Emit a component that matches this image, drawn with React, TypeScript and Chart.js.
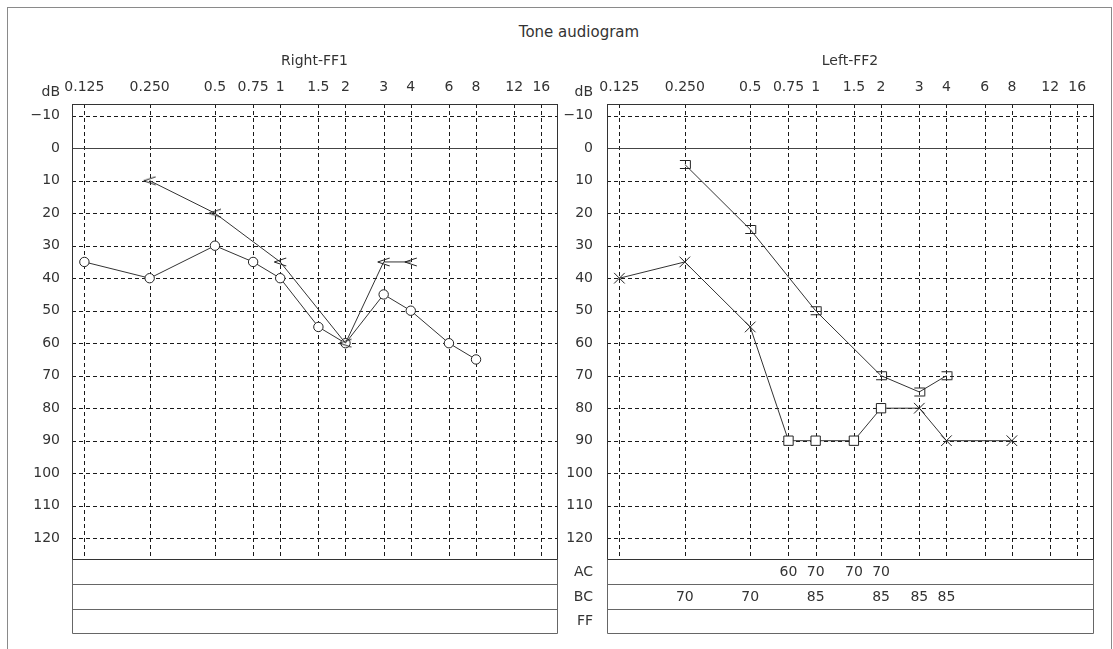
import React, { useEffect, useRef } from 'react';
import { Chart, registerables } from 'chart.js';

Chart.register(...registerables);

const FONT = '"DejaVu Sans", sans-serif';
const TEXT = '#333333';

// ---- axes ----
const freqTicks = [0.125, 0.25, 0.5, 0.75, 1, 1.5, 2, 3, 4, 6, 8, 12, 16];
const freqTickLabels = ['0.125', '0.250', '0.5', '0.75', '1', '1.5', '2', '3', '4', '6', '8', '12', '16'];
const dbTicks = [-10, 0, 10, 20, 30, 40, 50, 60, 70, 80, 90, 100, 110, 120];
const dbTickLabels = ['\u221210', '0', '10', '20', '30', '40', '50', '60', '70', '80', '90', '100', '110', '120'];
const freqMin = 0.1096;
const freqMax = 18.9;
const dbMin = -13.6;
const dbMax = 126.4;
const tableRows = ['AC', 'BC', 'FF'];

// ---- Right-FF1 ----
const rightAcFreqs = [0.125, 0.25, 0.5, 0.75, 1, 1.5, 2, 3, 4, 6, 8];
const rightAcValues = [35, 40, 30, 35, 40, 55, 60, 45, 50, 60, 65];
const rightBcFreqs = [0.25, 0.5, 1, 2, 3, 4];
const rightBcValues = [10, 20, 35, 60, 35, 35];
const rightMaskAcFreqs: number[] = [];
const rightMaskAcValues: number[] = [];
const rightMaskBcFreqs: number[] = [];
const rightMaskBcValues: number[] = [];
const rightMaskFfFreqs: number[] = [];
const rightMaskFfValues: number[] = [];

// ---- Left-FF2 ----
const leftAcFreqs = [0.125, 0.25, 0.5, 0.75, 1, 1.5, 2, 3, 4, 8];
const leftAcValues = [40, 35, 55, 90, 90, 90, 80, 80, 90, 90];
const leftAcMasked = [false, false, false, true, true, true, true, false, false, false];
const leftBcFreqs = [0.25, 0.5, 1, 2, 3, 4];
const leftBcValues = [5, 25, 50, 70, 75, 70];
const leftMaskAcFreqs = [0.75, 1, 1.5, 2];
const leftMaskAcValues = [60, 70, 70, 70];
const leftMaskBcFreqs = [0.25, 0.5, 1, 2, 3, 4];
const leftMaskBcValues = [70, 70, 85, 85, 85, 85];
const leftMaskFfFreqs: number[] = [];
const leftMaskFfValues: number[] = [];

type Row = { freqs: number[]; values: number[] };
type Panel = {
  key: string;
  title: string;
  yAxisWidth: number;
  labelPad: number;
  padRight: number;
  showRowLabels: boolean;
  rows: Row[];
};

const TABLE_ROW_H = [25, 25, 24];

function makeLess(): HTMLCanvasElement {
  const c = document.createElement('canvas');
  c.width = 14;
  c.height = 10;
  const g = c.getContext('2d')!;
  g.strokeStyle = '#222';
  g.lineWidth = 1;
  g.beginPath();
  g.moveTo(13, 1);
  g.lineTo(1, 5);
  g.lineTo(13, 9);
  g.stroke();
  return c;
}

function makeBracket(): HTMLCanvasElement {
  const c = document.createElement('canvas');
  c.width = 14;
  c.height = 11;
  const g = c.getContext('2d')!;
  g.strokeStyle = '#222';
  g.lineWidth = 1;
  g.beginPath();
  g.moveTo(2, 1.5);
  g.lineTo(12.5, 1.5);
  g.lineTo(12.5, 9.5);
  g.lineTo(2, 9.5);
  g.stroke();
  return c;
}

function panelPlugin(p: Panel) {
  return {
    id: 'panel_' + p.key,
    beforeDatasetsDraw(chart: any) {
      const { ctx, chartArea: a, scales } = chart;
      const xs = scales.x;
      const ys = scales.y;
      ctx.save();
      // dashed grid
      ctx.strokeStyle = '#1a1a1a';
      ctx.lineWidth = 1;
      ctx.setLineDash([4, 3]);
      for (const t of xs.ticks) {
        const x = Math.round(xs.getPixelForValue(t.value)) + 0.5;
        ctx.beginPath();
        ctx.moveTo(x, a.top);
        ctx.lineTo(x, a.bottom);
        ctx.stroke();
      }
      for (const t of ys.ticks) {
        if (t.value === 0) continue;
        const y = Math.round(ys.getPixelForValue(t.value)) + 0.5;
        ctx.beginPath();
        ctx.moveTo(a.left, y);
        ctx.lineTo(a.right, y);
        ctx.stroke();
      }
      ctx.setLineDash([]);
      // zero line
      ctx.strokeStyle = '#444';
      const y0 = Math.round(ys.getPixelForValue(0)) + 0.5;
      ctx.beginPath();
      ctx.moveTo(a.left, y0);
      ctx.lineTo(a.right, y0);
      ctx.stroke();
      // plot border
      const L = Math.round(a.left) + 0.5;
      const R = Math.round(a.right) + 0.5;
      const T = Math.round(a.top) + 0.5;
      const B = Math.round(a.bottom) + 0.5;
      ctx.strokeStyle = '#333';
      ctx.strokeRect(L, T, R - L, B - T);
      // table
      ctx.strokeStyle = '#666';
      let yy = B;
      const centers: number[] = [];
      for (let i = 0; i < TABLE_ROW_H.length; i++) {
        centers.push(yy + TABLE_ROW_H[i] / 2);
        yy += TABLE_ROW_H[i];
        ctx.beginPath();
        ctx.moveTo(L, yy);
        ctx.lineTo(R, yy);
        ctx.stroke();
      }
      ctx.beginPath();
      ctx.moveTo(L, B);
      ctx.lineTo(L, yy);
      ctx.moveTo(R, B);
      ctx.lineTo(R, yy);
      ctx.stroke();
      // texts
      ctx.fillStyle = TEXT;
      ctx.font = '14px ' + FONT;
      ctx.textBaseline = 'middle';
      ctx.textAlign = 'center';
      p.rows.forEach((row, i) => {
        row.freqs.forEach((f, j) => {
          ctx.fillText(String(row.values[j]), xs.getPixelForValue(f), centers[i]);
        });
      });
      if (p.showRowLabels) {
        ctx.textAlign = 'right';
        tableRows.forEach((lab, i) => ctx.fillText(lab, a.left - p.labelPad, centers[i]));
      }
      ctx.textAlign = 'right';
      ctx.textBaseline = 'alphabetic';
      ctx.fillText('dB', a.left - p.labelPad, 96);
      ctx.textAlign = 'center';
      ctx.textBaseline = 'middle';
      ctx.fillText(p.title, (a.left + a.right) / 2, 61);
      ctx.restore();
    },
  };
}

function makeChart(canvas: HTMLCanvasElement, p: Panel, datasets: any[]) {
  return new Chart(canvas, {
    type: 'line',
    data: { datasets },
    options: {
      animation: false,
      responsive: false,
      maintainAspectRatio: false,
      events: [],
      layout: { autoPadding: false, padding: { left: 0, top: 0, right: p.padRight, bottom: 90 } },
      plugins: { legend: { display: false }, tooltip: { enabled: false }, title: { display: false } },
      scales: {
        x: {
          type: 'logarithmic',
          position: 'top',
          min: freqMin,
          max: freqMax,
          bounds: 'data',
          grid: { display: false, drawTicks: false },
          border: { display: false },
          afterFit: (s: any) => {
            s.height = 104;
          },
          afterBuildTicks: (s: any) => {
            s.ticks = freqTicks.map((v) => ({ value: v }));
          },
          ticks: {
            autoSkip: false,
            maxRotation: 0,
            minRotation: 0,
            padding: 8,
            color: TEXT,
            font: { family: FONT, size: 14 },
            callback: (_v: any, i: number) => freqTickLabels[i],
          },
        },
        y: {
          type: 'linear',
          reverse: true,
          min: dbMin,
          max: dbMax,
          bounds: 'data',
          grid: { display: false, drawTicks: false },
          border: { display: false },
          afterFit: (s: any) => {
            s.width = p.yAxisWidth;
          },
          afterBuildTicks: (s: any) => {
            s.ticks = dbTicks.map((v) => ({ value: v }));
          },
          ticks: {
            padding: p.labelPad,
            color: TEXT,
            font: { family: FONT, size: 14 },
            callback: (_v: any, i: number) => dbTickLabels[i],
          },
        },
      },
    } as any,
    plugins: [panelPlugin(p)],
  });
}

const pts = (fs: number[], vs: number[]) => fs.map((f, i) => ({ x: f, y: vs[i] }));

export default function App() {
  const leftRef = useRef<HTMLCanvasElement>(null);
  const rightRef = useRef<HTMLCanvasElement>(null);

  useEffect(() => {
    const less = makeLess();
    const bracket = makeBracket();
    const lineBase = {
      borderColor: '#333',
      borderWidth: 1,
      pointBorderColor: '#222',
      pointBackgroundColor: '#fff',
      pointBorderWidth: 1,
      tension: 0,
      fill: false,
    };
    const panelR: Panel = {
      key: 'r',
      title: 'Right-FF1',
      yAxisWidth: 72,
      labelPad: 12,
      padRight: 8,
      showRowLabels: false,
      rows: [
        { freqs: rightMaskAcFreqs, values: rightMaskAcValues },
        { freqs: rightMaskBcFreqs, values: rightMaskBcValues },
        { freqs: rightMaskFfFreqs, values: rightMaskFfValues },
      ],
    };
    const panelL: Panel = {
      key: 'l',
      title: 'Left-FF2',
      yAxisWidth: 47,
      labelPad: 14,
      padRight: 20,
      showRowLabels: true,
      rows: [
        { freqs: leftMaskAcFreqs, values: leftMaskAcValues },
        { freqs: leftMaskBcFreqs, values: leftMaskBcValues },
        { freqs: leftMaskFfFreqs, values: leftMaskFfValues },
      ],
    };
    const c1 = makeChart(leftRef.current!, panelR, [
      { ...lineBase, label: 'BC', data: pts(rightBcFreqs, rightBcValues), pointStyle: less, pointRadius: 5 },
      { ...lineBase, label: 'AC', data: pts(rightAcFreqs, rightAcValues), pointStyle: 'circle', pointRadius: 4.7 },
    ]);
    const c2 = makeChart(rightRef.current!, panelL, [
      { ...lineBase, label: 'BC', data: pts(leftBcFreqs, leftBcValues), pointStyle: bracket, pointRadius: 5 },
      {
        ...lineBase,
        label: 'AC',
        data: pts(leftAcFreqs, leftAcValues),
        pointStyle: leftAcMasked.map((m) => (m ? 'rect' : 'crossRot')),
        pointRadius: leftAcMasked.map((m) => (m ? 6.6 : 7.5)),
      },
    ]);
    return () => {
      c1.destroy();
      c2.destroy();
    };
  }, []);

  return (
    <div style={{ position: 'absolute', left: 0, top: 0, width: 1113, height: 649, overflow: 'hidden', background: '#fff' }}>
      <div
        style={{
          position: 'absolute',
          left: 7,
          top: 7,
          width: 1105,
          height: 700,
          border: '1px solid #8a8a8a',
          boxSizing: 'border-box',
        }}
      />
      <div
        style={{
          position: 'absolute',
          left: 479,
          top: 22,
          width: 200,
          textAlign: 'center',
          fontFamily: FONT,
          fontSize: 15,
          lineHeight: '20px',
          color: TEXT,
        }}
      >
        Tone audiogram
      </div>
      <canvas ref={leftRef} width={565} height={649} style={{ position: 'absolute', left: 0, top: 0 }} />
      <canvas ref={rightRef} width={553} height={649} style={{ position: 'absolute', left: 560, top: 0 }} />
    </div>
  );
}
